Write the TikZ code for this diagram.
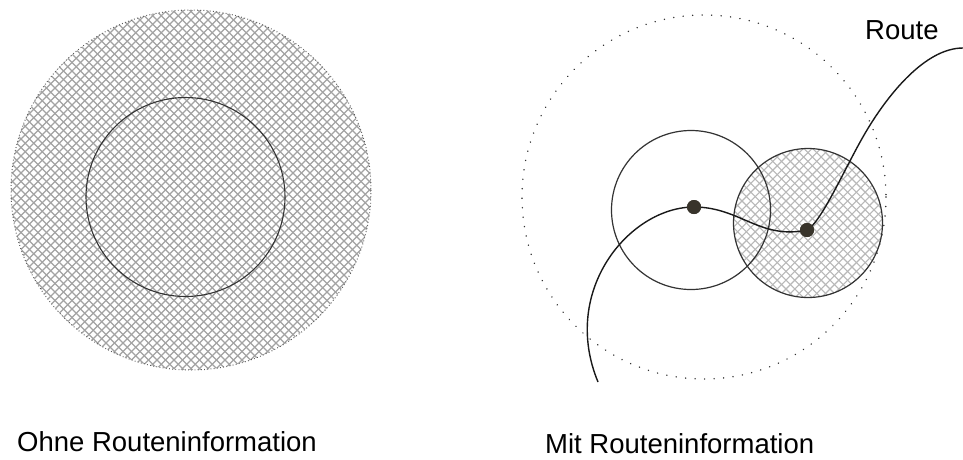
\documentclass[tikz,border=0pt]{standalone}
\usepackage{fontspec}
\setmainfont{Liberation Sans}
\begin{document}
\begin{tikzpicture}[x=1pt,y=-1pt,
  outline/.style={draw=black!80,line width=1.2pt},
  hatchline/.style={line width=1.1pt},
  dotedge/.style={draw=black!80,line width=1.6pt,dash pattern=on 0.01pt off 9.5pt,line cap=round},
  routeline/.style={draw=black!90,line width=1.4pt},
  posdot/.style={circle,fill=black!80!olive,inner sep=0pt,minimum size=14pt},
  caption/.style={anchor=base west,inner sep=0pt,font=\fontsize{27.5}{30}\selectfont}
]
\useasboundingbox (0,0) rectangle (963,459);
\fill[white] (0,0) rectangle (963,459);

% ---------- left: without route information ----------
\begin{scope}
  \clip (191,190) circle (180);
  \foreach \k in {-52,...,52}{
    \draw[hatchline,draw=black!36] ({191+\k*8.5-220},{190-220}) -- ({191+\k*8.5+220},{190+220});
    \draw[hatchline,draw=black!36] ({191+\k*8.5-220},{190+220}) -- ({191+\k*8.5+220},{190-220});
  }
\end{scope}
\draw[draw=black!65,line width=1pt,dash pattern=on 0.8pt off 2.4pt] (191,190) circle (180);
\draw[draw=black!80,line width=1.1pt] (185.5,197) circle (99.5);

% ---------- right: with route information ----------
\draw[dotedge] (704,197) circle (182);

\begin{scope}
  \clip (808,223) circle (74.5);
  \foreach \k in {-28,...,28}{
    \draw[hatchline,draw=black!28] ({808+\k*8.8-110},{223-110}) -- ({808+\k*8.8+110},{223+110});
    \draw[hatchline,draw=black!28] ({808+\k*8.8-110},{223+110}) -- ({808+\k*8.8+110},{223-110});
  }
\end{scope}
\draw[outline] (808,223) circle (74.5);
\draw[outline] (691,210) circle (79.5);

\coordinate (rstart) at (598,382);
\coordinate (rmid) at (867,130);
\coordinate (rend) at (963,48);
\node[posdot] (p1) at (694,207) {};
\node[posdot] (p2) at (807,230) {};

\draw[routeline] (rstart) .. controls (560,290) and (630,207) .. (p1.center)
  .. controls (740,207) and (760,240) .. (p2.center)
  .. controls (822,222) and (847,163) .. (rmid)
  .. controls (888,95) and (925,48) .. (rend);
\node[posdot] at (p1) {};
\node[posdot] at (p2) {};

% ---------- labels ----------
\node[caption] (lbl1) at (17,451) {Ohne Routeninformation};
\node[caption] (lbl2) at (545,453) {Mit Routeninformation};
\node[caption] (lbl3) at (865,39) {Route};
\end{tikzpicture}
\end{document}
